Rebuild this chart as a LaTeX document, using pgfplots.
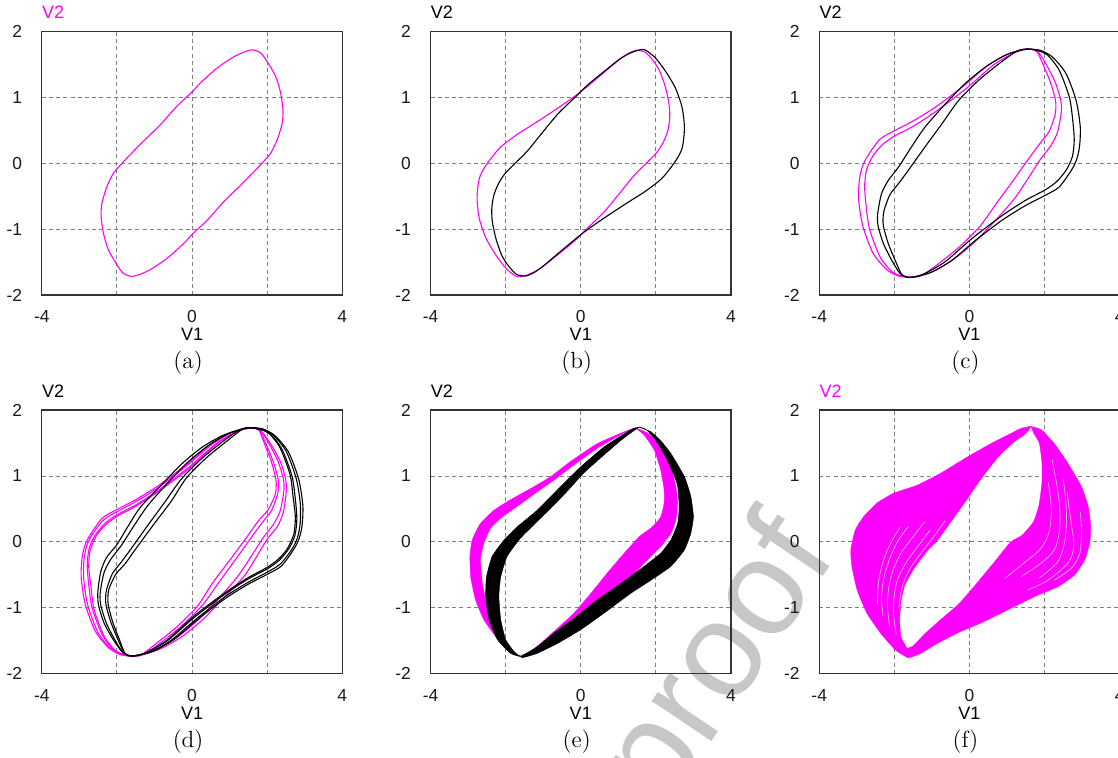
\documentclass[border=0pt]{standalone}
\usepackage{fontspec}
\usepackage{pgfplots}
\pgfplotsset{compat=1.18}
\newfontfamily\af{Liberation Sans}
\definecolor{mag}{RGB}{255,0,255}
\pgfplotsset{
 pp/.style={
  anchor=north west, scale only axis, width=150.25pt, height=131.9pt,
  xmin=-4, xmax=4, ymin=-2, ymax=2, clip mode=individual,
  xtick={-4,-2,0,2,4}, xticklabels={-4,,0,,4},
  ytick={-2,-1,0,1,2}, yticklabels={-2,-1,0,1,2},
  major tick length=0pt, grid=major,
  grid style={dash pattern=on 2pt off 1.6pt, black!50, line width=0.45pt},
  axis line style={black!80, line width=0.65pt},
  tick label style={font=\af\fontsize{8.7}{10}\selectfont, text=black!90},
  xticklabel style={yshift=-4.2pt},
  yticklabel style={xshift=-6.3pt},
  xlabel={V1}, ylabel={V2},
  label style={font=\af\fontsize{9}{10}\selectfont},
  xlabel style={at={(rel axis cs:0.5,0)}, anchor=north, inner sep=0pt, yshift=-16.5pt},
  ylabel style={at={(rel axis cs:0,1)}, anchor=south west, rotate=-90, inner sep=0pt, yshift=6.3pt},
 },
 mline/.style={mag, line width=0.55pt, smooth, tension=0.45, no markers},
 bline/.style={black, line width=0.55pt, smooth, tension=0.45, no markers},
 mfill/.style={fill=mag, draw=mag, line width=0.2pt, smooth, tension=0.3, no markers},
 bfill/.style={fill=black, draw=black, line width=0.2pt, smooth, tension=0.3, no markers},
 wstreak/.style={white, opacity=0.8, line width=0.3pt, smooth, tension=0.5, no markers},
}
\newcommand{\subcap}[1]{\node[font=\fontsize{11.7}{14}\selectfont, anchor=center, xshift=-2pt, yshift=-33.85pt] at (rel axis cs:0.5,0) {#1};}
\begin{document}
\begin{tikzpicture}
\path[use as bounding box] (0,0) rectangle (559pt,-378.5pt);
\node[rotate=56, text=black!22, font=\af\fontsize{68}{68}\selectfont, inner sep=0pt] at (361pt,-332pt) {proof};

% (a)
\begin{axis}[pp, at={(20.9pt,-15.65pt)}, ylabel style={text=mag}]
\addplot[mline] coordinates {(-1.61,-1.72) (-1.83,-1.67) (-2.00,-1.54) (-2.23,-1.31) (-2.36,-1.06) (-2.42,-0.81) (-2.40,-0.61) (-2.27,-0.36) (-2.09,-0.15) (-1.83,0.02) (-1.56,0.18) (-1.30,0.33) (-0.85,0.58) (-0.41,0.86) (0.00,1.08) (0.21,1.21) (0.66,1.44) (1.10,1.61) (1.41,1.69) (1.61,1.72) (1.83,1.67) (2.00,1.54) (2.23,1.31) (2.36,1.06) (2.42,0.81) (2.40,0.61) (2.27,0.36) (2.09,0.15) (1.83,-0.02) (1.56,-0.18) (1.30,-0.33) (0.85,-0.58) (0.41,-0.86) (0.00,-1.08) (-0.21,-1.21) (-0.66,-1.44) (-1.10,-1.61) (-1.41,-1.69) (-1.61,-1.72)};
\subcap{(a)}
\end{axis}

% (b)
\begin{axis}[pp, at={(215.25pt,-15.65pt)}]
\addplot[mline] coordinates {(1.45,1.71) (1.70,1.69) (1.92,1.56) (2.10,1.40) (2.25,1.16) (2.35,0.90) (2.37,0.70) (2.32,0.50) (2.20,0.32) (2.02,0.16) (1.78,0.02) (1.43,-0.18) (1.07,-0.43) (0.62,-0.74) (0.17,-0.99) (-0.19,-1.19) (-0.64,-1.40) (-1.09,-1.60) (-1.45,-1.70) (-1.70,-1.72) (-1.98,-1.60) (-2.25,-1.40) (-2.52,-1.14) (-2.70,-0.84) (-2.76,-0.53) (-2.70,-0.23) (-2.52,-0.03) (-2.16,0.23) (-1.71,0.43) (-1.35,0.56) (-0.73,0.79) (-0.10,1.04) (0.44,1.29) (0.98,1.55) (1.25,1.66) (1.45,1.71)};
\addplot[bline] coordinates {(-1.45,-1.71) (-1.70,-1.69) (-1.92,-1.56) (-2.10,-1.40) (-2.25,-1.16) (-2.35,-0.90) (-2.37,-0.70) (-2.32,-0.50) (-2.20,-0.32) (-2.02,-0.16) (-1.78,-0.02) (-1.43,0.18) (-1.07,0.43) (-0.62,0.74) (-0.17,0.99) (0.19,1.19) (0.64,1.40) (1.09,1.60) (1.45,1.70) (1.70,1.72) (1.98,1.60) (2.25,1.40) (2.52,1.14) (2.70,0.84) (2.76,0.53) (2.70,0.23) (2.52,0.03) (2.16,-0.23) (1.71,-0.43) (1.35,-0.56) (0.73,-0.79) (0.10,-1.04) (-0.44,-1.29) (-0.98,-1.55) (-1.25,-1.66) (-1.45,-1.71)};
\subcap{(b)}
\end{axis}

% (c)
\begin{axis}[pp, at={(409.6pt,-15.65pt)}]
\addplot[mline] coordinates {(-1.63,-1.73) (-1.90,-1.71) (-2.21,-1.61) (-2.57,-1.36) (-2.84,-0.95) (-2.95,-0.55) (-2.93,-0.25) (-2.85,-0.05) (-2.71,0.11) (-2.39,0.36) (-2.04,0.48) (-1.50,0.64) (-0.88,0.86) (-0.16,1.17) (0.46,1.47) (1.00,1.65) (1.36,1.71) (1.63,1.73) (1.85,1.67) (2.07,1.47) (2.29,1.22) (2.43,0.96) (2.45,0.83) (2.43,0.71) (2.34,0.46) (2.16,0.26) (1.89,0.06) (1.54,-0.25) (1.18,-0.55) (0.64,-0.90) (0.11,-1.21) (-0.43,-1.46) (-0.96,-1.64) (-1.41,-1.72) (-1.63,-1.73)};
\addplot[mline] coordinates {(-1.63,-1.73) (-1.85,-1.70) (-2.08,-1.64) (-2.39,-1.41) (-2.66,-1.00) (-2.75,-0.65) (-2.79,-0.35) (-2.74,-0.10) (-2.58,0.10) (-2.32,0.28) (-2.00,0.41) (-1.50,0.56) (-0.88,0.79) (-0.07,1.14) (0.64,1.49) (1.18,1.67) (1.45,1.72) (1.63,1.73) (1.80,1.69) (1.98,1.47) (2.16,1.22) (2.29,0.96) (2.30,0.83) (2.27,0.71) (2.12,0.48) (1.89,0.31) (1.63,0.11) (1.18,-0.25) (0.73,-0.60) (0.29,-0.95) (-0.25,-1.26) (-0.79,-1.51) (-1.23,-1.69) (-1.45,-1.73) (-1.63,-1.73)};
\addplot[bline] coordinates {(1.63,1.73) (1.90,1.71) (2.21,1.61) (2.57,1.36) (2.84,0.95) (2.95,0.55) (2.93,0.25) (2.85,0.05) (2.71,-0.11) (2.39,-0.36) (2.04,-0.48) (1.50,-0.64) (0.88,-0.86) (0.16,-1.17) (-0.46,-1.47) (-1.00,-1.65) (-1.36,-1.71) (-1.63,-1.73) (-1.85,-1.67) (-2.07,-1.47) (-2.29,-1.22) (-2.43,-0.96) (-2.45,-0.83) (-2.43,-0.71) (-2.34,-0.46) (-2.16,-0.26) (-1.89,-0.06) (-1.54,0.25) (-1.18,0.55) (-0.64,0.90) (-0.11,1.21) (0.43,1.46) (0.96,1.64) (1.41,1.72) (1.63,1.73)};
\addplot[bline] coordinates {(1.63,1.73) (1.85,1.70) (2.08,1.64) (2.39,1.41) (2.66,1.00) (2.75,0.65) (2.79,0.35) (2.74,0.10) (2.58,-0.10) (2.32,-0.28) (2.00,-0.41) (1.50,-0.56) (0.88,-0.79) (0.07,-1.14) (-0.64,-1.49) (-1.18,-1.67) (-1.45,-1.72) (-1.63,-1.73) (-1.80,-1.69) (-1.98,-1.47) (-2.16,-1.22) (-2.29,-0.96) (-2.30,-0.83) (-2.27,-0.71) (-2.12,-0.48) (-1.89,-0.31) (-1.63,-0.11) (-1.18,0.25) (-0.73,0.60) (-0.29,0.95) (0.25,1.26) (0.79,1.51) (1.23,1.69) (1.45,1.73) (1.63,1.73)};
\subcap{(c)}
\end{axis}

% (d)
\begin{axis}[pp, at={(20.9pt,-205pt)}]
\addplot[mline] coordinates {(-1.63,-1.73) (-1.90,-1.71) (-2.21,-1.61) (-2.57,-1.36) (-2.84,-0.95) (-2.95,-0.55) (-2.93,-0.25) (-2.85,-0.05) (-2.71,0.11) (-2.39,0.36) (-2.04,0.48) (-1.50,0.64) (-0.88,0.86) (-0.16,1.17) (0.46,1.47) (1.00,1.65) (1.36,1.71) (1.63,1.73) (1.87,1.66) (2.11,1.47) (2.35,1.22) (2.49,0.96) (2.51,0.83) (2.50,0.71) (2.43,0.45) (2.28,0.24) (2.00,0.04) (1.69,-0.25) (1.37,-0.53) (0.79,-0.88) (0.26,-1.19) (-0.28,-1.44) (-0.84,-1.62) (-1.39,-1.72) (-1.63,-1.73)};
\addplot[mline] coordinates {(-1.63,-1.73) (-1.88,-1.71) (-2.16,-1.62) (-2.50,-1.38) (-2.77,-0.97) (-2.88,-0.59) (-2.88,-0.29) (-2.81,-0.07) (-2.66,0.11) (-2.36,0.33) (-2.03,0.45) (-1.50,0.61) (-0.88,0.83) (-0.13,1.16) (0.53,1.48) (1.07,1.66) (1.39,1.71) (1.63,1.73) (1.85,1.67) (2.07,1.47) (2.29,1.22) (2.43,0.96) (2.45,0.83) (2.43,0.71) (2.34,0.46) (2.16,0.26) (1.89,0.06) (1.54,-0.25) (1.18,-0.55) (0.64,-0.90) (0.11,-1.21) (-0.43,-1.46) (-0.96,-1.64) (-1.41,-1.72) (-1.63,-1.73)};
\addplot[mline] coordinates {(-1.63,-1.73) (-1.85,-1.70) (-2.08,-1.64) (-2.39,-1.41) (-2.66,-1.00) (-2.75,-0.65) (-2.79,-0.35) (-2.74,-0.10) (-2.58,0.10) (-2.32,0.28) (-2.00,0.41) (-1.50,0.56) (-0.88,0.79) (-0.07,1.14) (0.64,1.49) (1.18,1.67) (1.45,1.72) (1.63,1.73) (1.80,1.69) (1.98,1.47) (2.16,1.22) (2.29,0.96) (2.30,0.83) (2.27,0.71) (2.12,0.48) (1.89,0.31) (1.63,0.11) (1.18,-0.25) (0.73,-0.60) (0.29,-0.95) (-0.25,-1.26) (-0.79,-1.51) (-1.23,-1.69) (-1.45,-1.73) (-1.63,-1.73)};
\addplot[mline] coordinates {(-1.63,-1.73) (-1.84,-1.70) (-2.04,-1.65) (-2.34,-1.43) (-2.61,-1.02) (-2.69,-0.68) (-2.75,-0.38) (-2.71,-0.12) (-2.54,0.10) (-2.30,0.26) (-1.99,0.39) (-1.50,0.54) (-0.88,0.77) (-0.04,1.13) (0.69,1.50) (1.23,1.68) (1.48,1.72) (1.63,1.73) (1.78,1.70) (1.94,1.47) (2.11,1.22) (2.23,0.96) (2.24,0.83) (2.21,0.71) (2.03,0.49) (1.78,0.33) (1.53,0.13) (1.04,-0.25) (0.55,-0.62) (0.15,-0.97) (-0.39,-1.28) (-0.93,-1.53) (-1.34,-1.71) (-1.47,-1.73) (-1.63,-1.73)};
\addplot[bline] coordinates {(1.63,1.73) (1.90,1.71) (2.21,1.61) (2.57,1.36) (2.84,0.95) (2.95,0.55) (2.93,0.25) (2.85,0.05) (2.71,-0.11) (2.39,-0.36) (2.04,-0.48) (1.50,-0.64) (0.88,-0.86) (0.16,-1.17) (-0.46,-1.47) (-1.00,-1.65) (-1.36,-1.71) (-1.63,-1.73) (-1.87,-1.66) (-2.11,-1.47) (-2.35,-1.22) (-2.49,-0.96) (-2.51,-0.83) (-2.50,-0.71) (-2.43,-0.45) (-2.28,-0.24) (-2.00,-0.04) (-1.69,0.25) (-1.37,0.53) (-0.79,0.88) (-0.26,1.19) (0.28,1.44) (0.84,1.62) (1.39,1.72) (1.63,1.73)};
\addplot[bline] coordinates {(1.63,1.73) (1.88,1.71) (2.16,1.62) (2.50,1.38) (2.77,0.97) (2.88,0.59) (2.88,0.29) (2.81,0.07) (2.66,-0.11) (2.36,-0.33) (2.03,-0.45) (1.50,-0.61) (0.88,-0.83) (0.13,-1.16) (-0.53,-1.48) (-1.07,-1.66) (-1.39,-1.71) (-1.63,-1.73) (-1.85,-1.67) (-2.07,-1.47) (-2.29,-1.22) (-2.43,-0.96) (-2.45,-0.83) (-2.43,-0.71) (-2.34,-0.46) (-2.16,-0.26) (-1.89,-0.06) (-1.54,0.25) (-1.18,0.55) (-0.64,0.90) (-0.11,1.21) (0.43,1.46) (0.96,1.64) (1.41,1.72) (1.63,1.73)};
\addplot[bline] coordinates {(1.63,1.73) (1.85,1.70) (2.08,1.64) (2.39,1.41) (2.66,1.00) (2.75,0.65) (2.79,0.35) (2.74,0.10) (2.58,-0.10) (2.32,-0.28) (2.00,-0.41) (1.50,-0.56) (0.88,-0.79) (0.07,-1.14) (-0.64,-1.49) (-1.18,-1.67) (-1.45,-1.72) (-1.63,-1.73) (-1.80,-1.69) (-1.98,-1.47) (-2.16,-1.22) (-2.29,-0.96) (-2.30,-0.83) (-2.27,-0.71) (-2.12,-0.48) (-1.89,-0.31) (-1.63,-0.11) (-1.18,0.25) (-0.73,0.60) (-0.29,0.95) (0.25,1.26) (0.79,1.51) (1.23,1.69) (1.45,1.73) (1.63,1.73)};
\addplot[bline] coordinates {(1.63,1.73) (1.84,1.70) (2.04,1.65) (2.34,1.43) (2.61,1.02) (2.69,0.68) (2.75,0.38) (2.71,0.12) (2.54,-0.10) (2.30,-0.26) (1.99,-0.39) (1.50,-0.54) (0.88,-0.77) (0.04,-1.13) (-0.69,-1.50) (-1.23,-1.68) (-1.48,-1.72) (-1.63,-1.73) (-1.78,-1.70) (-1.94,-1.47) (-2.11,-1.22) (-2.23,-0.96) (-2.24,-0.83) (-2.21,-0.71) (-2.03,-0.49) (-1.78,-0.33) (-1.53,-0.13) (-1.04,0.25) (-0.55,0.62) (-0.15,0.97) (0.39,1.28) (0.93,1.53) (1.34,1.71) (1.47,1.73) (1.63,1.73)};
\subcap{(d)}
\end{axis}

% (e)
\begin{axis}[pp, at={(215.25pt,-205pt)}]
\addplot[mfill] coordinates {(-1.69,-1.73) (-1.96,-1.64) (-2.27,-1.43) (-2.58,-1.18) (-2.80,-0.88) (-2.93,-0.53) (-2.95,-0.22) (-2.89,0.03) (-2.67,0.28) (-2.31,0.48) (-1.87,0.64) (-1.33,0.81) (-0.80,0.99) (-0.27,1.22) (0.44,1.49) (1.16,1.67) (1.45,1.73) (1.11,1.64) (0.44,1.42) (-0.18,1.17) (-0.71,0.94) (-1.16,0.76) (-1.69,0.54) (-2.09,0.38) (-2.40,0.21) (-2.58,-0.02) (-2.67,-0.27) (-2.62,-0.63) (-2.49,-0.98) (-2.27,-1.28) (-2.00,-1.54) (-1.73,-1.71) (-1.69,-1.73)};
\addplot[mfill] coordinates {(1.45,1.73) (1.78,1.65) (2.13,1.44) (2.40,1.14) (2.53,0.84) (2.58,0.59) (2.53,0.33) (2.40,0.13) (2.13,-0.07) (1.78,-0.27) (1.33,-0.53) (0.80,-0.83) (0.27,-1.08) (-0.27,-1.28) (-0.80,-1.48) (-1.24,-1.64) (-1.51,-1.71) (-1.69,-1.73) (-1.42,-1.69) (-1.07,-1.54) (-0.62,-1.31) (-0.18,-1.08) (0.27,-0.78) (0.71,-0.47) (1.16,-0.17) (1.56,0.08) (1.91,0.23) (2.13,0.38) (2.22,0.59) (2.22,0.79) (2.13,1.09) (1.96,1.39) (1.69,1.62) (1.45,1.73)};
\addplot[bfill] coordinates {(-1.60,-1.74) (-1.87,-1.69) (-2.22,-1.48) (-2.44,-1.18) (-2.53,-0.83) (-2.51,-0.53) (-2.36,-0.22) (-2.04,0.03) (-1.69,0.23) (-1.16,0.48) (-0.62,0.79) (0.00,1.14) (0.62,1.44) (1.33,1.70) (1.55,1.74) (1.42,1.69) (1.07,1.54) (0.62,1.32) (0.09,1.05) (-0.44,0.72) (-1.07,0.36) (-1.60,0.06) (-1.96,-0.22) (-2.13,-0.53) (-2.18,-0.83) (-2.13,-1.18) (-2.00,-1.48) (-1.78,-1.66) (-1.60,-1.74)};
\addplot[bfill] coordinates {(1.55,1.74) (1.87,1.67) (2.15,1.52) (2.40,1.34) (2.76,0.99) (2.93,0.69) (3.00,0.38) (2.93,0.13) (2.76,-0.12) (2.40,-0.37) (1.87,-0.58) (1.33,-0.78) (0.62,-1.08) (0.00,-1.33) (-0.62,-1.54) (-1.16,-1.69) (-1.51,-1.75) (-1.60,-1.74) (-1.16,-1.59) (-0.71,-1.38) (-0.18,-1.16) (0.44,-0.88) (1.07,-0.63) (1.69,-0.37) (2.13,-0.17) (2.40,0.03) (2.58,0.28) (2.62,0.54) (2.58,0.84) (2.49,1.00) (2.27,1.28) (2.00,1.54) (1.73,1.71) (1.55,1.74)};
\subcap{(e)}
\end{axis}

% (f)
\begin{axis}[pp, at={(409.6pt,-205pt)}, ylabel style={text=mag}]
\addplot[mfill] coordinates {(-1.66,-1.75) (-1.97,-1.64) (-2.37,-1.38) (-2.73,-1.08) (-2.99,-0.73) (-3.13,-0.37) (-3.16,-0.12) (-3.04,0.18) (-2.82,0.38) (-2.46,0.59) (-2.01,0.74) (-1.39,0.86) (-0.77,1.04) (-0.05,1.29) (0.57,1.49) (1.02,1.62) (1.37,1.72) (1.64,1.75) (1.45,1.62) (1.19,1.52) (0.75,1.28) (0.30,0.95) (-0.10,0.62) (-0.50,0.30) (-0.86,0.02) (-1.10,-0.12) (-1.45,-0.38) (-1.72,-0.65) (-1.82,-0.90) (-1.86,-1.20) (-1.82,-1.45) (-1.66,-1.62) (-1.66,-1.75)};
\addplot[mfill] coordinates {(1.64,1.75) (1.91,1.70) (2.26,1.49) (2.62,1.19) (2.98,0.84) (3.16,0.54) (3.23,0.23) (3.20,-0.02) (3.07,-0.27) (2.80,-0.50) (2.35,-0.68) (1.73,-0.83) (1.02,-1.03) (0.30,-1.23) (-0.32,-1.38) (-0.86,-1.54) (-1.30,-1.69) (-1.57,-1.75) (-1.66,-1.75) (-1.66,-1.62) (-1.50,-1.58) (-1.20,-1.40) (-0.77,-1.18) (-0.30,-0.95) (0.12,-0.68) (0.70,-0.28) (1.10,0.00) (1.40,0.10) (1.70,0.30) (1.85,0.55) (1.93,0.90) (1.93,1.20) (1.86,1.50) (1.72,1.64) (1.64,1.75)};
\addplot[wstreak] coordinates {(-1.95,-1.40) (-2.02,-1.10) (-2.00,-0.80) (-1.90,-0.55) (-1.65,-0.28) (-1.35,-0.05) (-1.05,0.18)};
\addplot[wstreak] coordinates {(-2.12,-1.30) (-2.18,-1.00) (-2.15,-0.70) (-2.03,-0.42) (-1.80,-0.15) (-1.50,0.08) (-1.20,0.30)};
\addplot[wstreak] coordinates {(-2.30,-1.12) (-2.34,-0.85) (-2.28,-0.55) (-2.12,-0.25) (-1.90,0.02) (-1.62,0.24)};
\addplot[wstreak] coordinates {(-1.88,-1.00) (-1.80,-0.70) (-1.60,-0.42) (-1.30,-0.18) (-0.95,0.08) (-0.65,0.32)};
\addplot[wstreak] coordinates {(-2.45,-0.95) (-2.42,-0.60) (-2.30,-0.30) (-2.10,-0.02) (-1.85,0.22)};
\addplot[wstreak] coordinates {(2.20,1.25) (2.33,0.85) (2.40,0.55) (2.40,0.18) (2.26,-0.12) (1.91,-0.32) (1.37,-0.53)};
\addplot[wstreak] coordinates {(2.60,0.75) (2.71,0.28) (2.78,-0.07) (2.62,-0.32) (2.09,-0.58) (1.55,-0.73)};
\addplot[wstreak] coordinates {(2.95,0.45) (2.98,0.18) (2.94,-0.17) (2.71,-0.40) (2.26,-0.58)};
\addplot[wstreak] coordinates {(2.10,0.90) (2.18,0.50) (2.12,0.15) (1.90,-0.10) (1.45,-0.32) (0.95,-0.55)};
\addplot[wstreak] coordinates {(2.50,0.95) (2.58,0.50) (2.55,0.05) (2.35,-0.30) (1.85,-0.55)};
\subcap{(f)}
\end{axis}
\end{tikzpicture}
\end{document}
